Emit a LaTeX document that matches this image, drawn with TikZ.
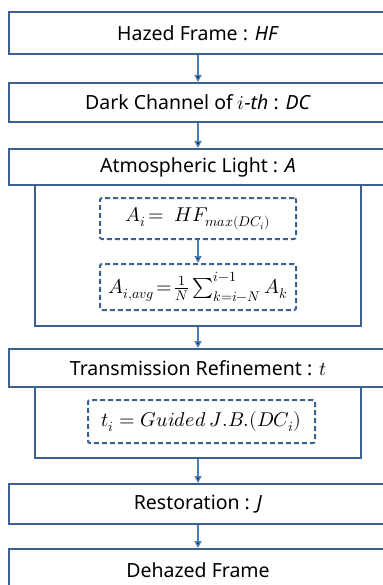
\documentclass[tikz,border=0pt]{standalone}
\usepackage{fontspec}
\usepackage{unicode-math}
\setmainfont{Noto Sans}
\setmathfont{Latin Modern Math}
\usetikzlibrary{positioning,arrows.meta}
\definecolor{boxblue}{HTML}{3C6090}
\definecolor{arrowblue}{HTML}{4A7EBB}
\tikzset{
  stage/.style={draw=boxblue, line width=2pt, fill=white, minimum width=378pt,
    inner sep=0pt, font=\fontsize{19.5}{23}\selectfont},
  formula/.style={draw=boxblue, dash pattern=on 5pt off 3pt, line width=2pt,
    rounded corners=2pt, inner sep=0pt, font=\fontsize{20}{24}\selectfont},
  panel/.style={draw=boxblue, line width=2pt, minimum width=326pt, inner sep=0pt},
  flow/.style={draw=arrowblue, line width=1.5pt, -{Triangle[length=7pt,width=7pt]}}
}
\begin{document}
\begin{tikzpicture}[x=1pt,y=-1pt]
   \useasboundingbox (0,0) rectangle (382,585);
   % panels behind the stage boxes
   \node (ALP) [panel, minimum height=141pt] at (198,255.5) {};
   \node (TRP) [panel, minimum height=71pt] at (198,422.5) {};

   \node (HF) [stage, minimum height=42pt] at (198,33) {Hazed Frame : \textit{HF}};
   \node (DC) [stage, minimum height=39pt] at (198,102.5) {Dark Channel of $i$\textit{-th} : \textit{DC}};
   \node (AL) [stage, minimum height=36pt] at (198,167) {Atmospheric Light : \textit{A}};
   \node (A1) [formula, minimum width=196pt, minimum height=41pt] at (198,218.5)
     {$A_i\!=\ HF_{max(DC_i)}$};
   \node (A2) [formula, minimum width=196pt, minimum height=46pt] at (198,287)
     {$A_{i,avg}\!=\!\frac{1}{N}\sum_{k=i-N}^{i-1}A_k$};
   \node (TR) [stage, minimum height=38pt] at (198,368) {Transmission Refinement : $t$};
   \node (TI) [formula, minimum width=227pt, minimum height=43pt] at (201.5,421.5)
     {$t_i = Guided\,J.B.(DC_i)$};
   \node (RE) [stage, minimum height=40pt] at (198,504) {Restoration : \textit{J}};
   \node (DH) [stage, minimum height=42pt] at (198,570) {Dehazed Frame};

   \path[flow]
     (HF) edge (DC)
     (DC) edge (AL)
     (A1) edge (A2)
     (ALP) edge (TR)
     (TRP) edge (RE)
     (RE) edge (DH);
  \end{tikzpicture}
\end{document}
